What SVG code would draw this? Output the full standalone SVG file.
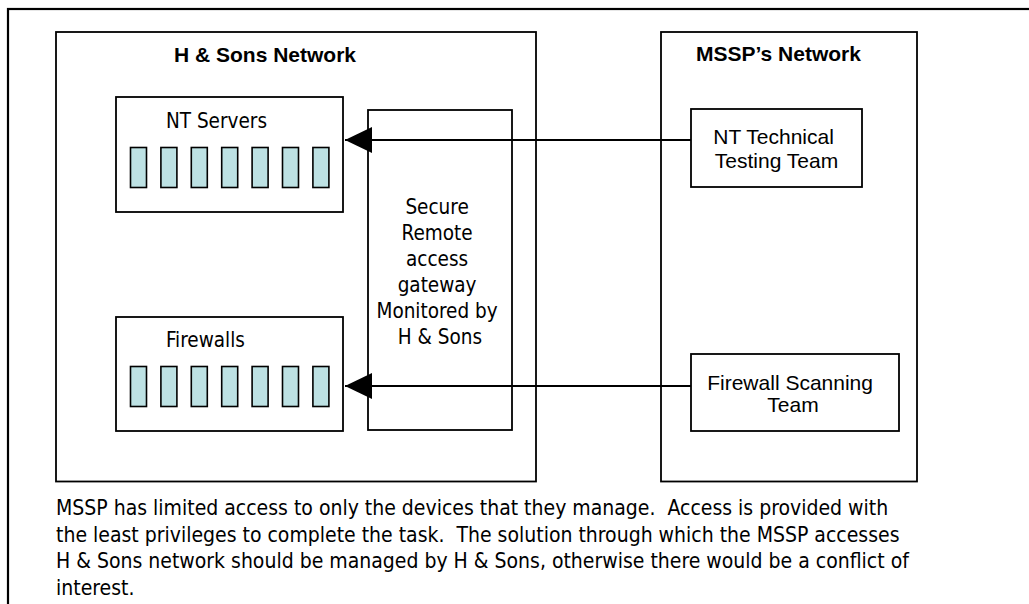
<svg xmlns="http://www.w3.org/2000/svg" width="1029" height="604" viewBox="0 0 1029 604">
  <style>
    .box { fill: #ffffff; stroke: #000000; stroke-width: 1.8; }
    .frame { fill: none; stroke: #000000; stroke-width: 2.2; }
    .unit { fill: #bde1e3; stroke: #000000; stroke-width: 1.6; }
    .link { fill: none; stroke: #000000; stroke-width: 1.8; }
    .title { font-family: "Liberation Sans", Arial, sans-serif; font-weight: bold; font-size: 21px; fill: #000000; }
    .team { font-family: "Liberation Sans", Arial, sans-serif; font-size: 21px; fill: #000000; text-anchor: middle; }
    .label { font-family: "DejaVu Sans Condensed", "DejaVu Sans", sans-serif; font-size: 20.5px; fill: #000000; }
    .note { font-family: "DejaVu Sans Condensed", "DejaVu Sans", sans-serif; font-size: 21px; fill: #000000; white-space: pre; }
  </style>
  <defs>
    <marker id="arrowhead" markerUnits="userSpaceOnUse" markerWidth="28" markerHeight="28" refX="27" refY="13" orient="auto">
      <path d="M0,0 L27,13 L0,26 Z" fill="#000000"/>
    </marker>
    <!-- one rack of seven device units -->
    <g id="rack">
      <rect class="unit" x="0" y="0" width="16" height="40"/>
      <rect class="unit" x="30.4" y="0" width="16" height="40"/>
      <rect class="unit" x="60.8" y="0" width="16" height="40"/>
      <rect class="unit" x="91.2" y="0" width="16" height="40"/>
      <rect class="unit" x="121.6" y="0" width="16" height="40"/>
      <rect class="unit" x="152" y="0" width="16" height="40"/>
      <rect class="unit" x="182.4" y="0" width="16" height="40"/>
    </g>
  </defs>

  <rect x="0" y="0" width="1029" height="604" fill="#ffffff"/>

  <!-- page frame -->
  <rect class="frame" x="8" y="9" width="1040" height="620"/>

  <g id="hsons-network">
    <rect class="box" x="56" y="32" width="480" height="449.5"/>
    <text class="title" x="174" y="62">H &amp; Sons Network</text>
  </g>

  <g id="mssp-network">
    <rect class="box" x="661" y="32" width="256" height="449.5"/>
    <text class="title" x="696" y="61">MSSP’s Network</text>
  </g>

  <g id="nt-servers">
    <rect class="box" x="116" y="97" width="227" height="115"/>
    <text class="label" x="166" y="128">NT Servers</text>
    <use href="#rack" x="130.5" y="147.5"/>
  </g>

  <g id="firewalls">
    <rect class="box" x="116" y="317" width="227" height="114"/>
    <text class="label" x="166" y="347">Firewalls</text>
    <use href="#rack" x="130.5" y="366.5"/>
  </g>

  <g id="gateway">
    <rect class="box" x="368" y="110" width="144" height="320"/>
    <text class="label" text-anchor="middle">
      <tspan x="440" y="214">Secure</tspan>
      <tspan x="440" y="240">Remote</tspan>
      <tspan x="440" y="266">access</tspan>
      <tspan x="440" y="292">gateway</tspan>
      <tspan x="440" y="318">Monitored by</tspan>
      <tspan x="440" y="344">H &amp; Sons</tspan>
    </text>
  </g>

  <g id="nt-testing-team">
    <rect class="box" x="691" y="109" width="171" height="78"/>
    <text class="team">
      <tspan x="776.5" y="144">NT Technical</tspan>
      <tspan x="776.5" y="168">Testing Team</tspan>
    </text>
  </g>

  <g id="firewall-scanning-team">
    <rect class="box" x="691" y="354" width="208" height="77"/>
    <text class="team">
      <tspan x="793" y="390">Firewall Scanning</tspan>
      <tspan x="793" y="412">Team</tspan>
    </text>
  </g>

  <g id="connectors">
    <line class="link" x1="691" y1="140" x2="345" y2="140" marker-end="url(#arrowhead)"/>
    <line class="link" x1="691" y1="386" x2="345" y2="386" marker-end="url(#arrowhead)"/>
  </g>

  <g id="caption">
    <text class="note" x="56" y="515">MSSP has limited access to only the devices that they manage.  Access is provided with</text>
    <text class="note" x="56" y="541.5">the least privileges to complete the task.  The solution through which the MSSP accesses</text>
    <text class="note" x="56" y="568">H &amp; Sons network should be managed by H &amp; Sons, otherwise there would be a conflict of</text>
    <text class="note" x="56" y="594.5">interest.</text>
  </g>
</svg>
